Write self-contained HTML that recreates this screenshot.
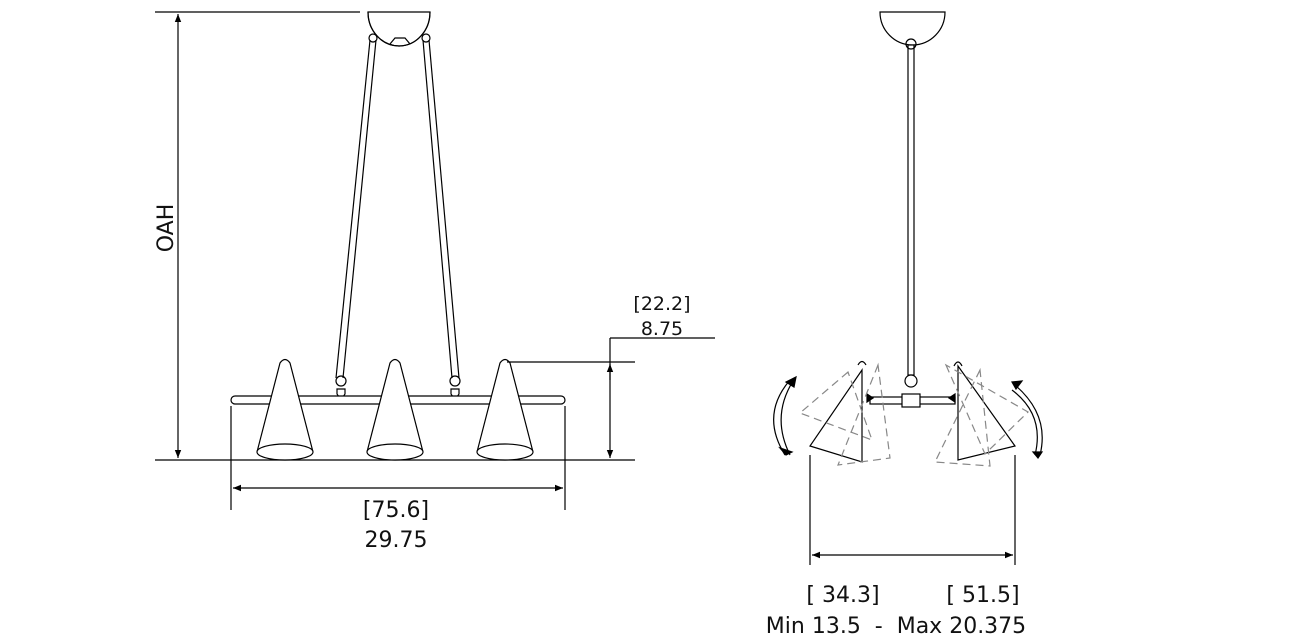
<!DOCTYPE html>
<html><head><style>body{margin:0;background:#fff}svg{display:block}text{font-family:"DejaVu Sans","Liberation Sans",sans-serif;fill:#111}</style></head><body>
<svg width="1292" height="643" viewBox="0 0 1292 643" xmlns="http://www.w3.org/2000/svg">
<defs>
<marker id="a" viewBox="0 0 10 10" refX="10" refY="5" markerWidth="24" markerHeight="8" markerUnits="userSpaceOnUse" orient="auto-start-reverse"><path d="M0,1 L10,5 L0,9 z" fill="#000"/></marker>
</defs>
<g stroke="#000" stroke-width="1.2" fill="none">
<!-- left view -->
<line x1="155" y1="12" x2="360" y2="12"/>
<line x1="178" y1="14" x2="178" y2="458" marker-start="url(#a)" marker-end="url(#a)"/>
<line x1="155" y1="460" x2="635" y2="460"/>
<path d="M368,12 L430,12 A31,34 0 0 1 368,12 Z" fill="#fff"/>
<path d="M368,12 A31,34 0 0 0 430,12" />
<path d="M390,44 L395,38 L405,38 L410,44"/>
<line x1="370" y1="40" x2="336" y2="378"/><line x1="376" y1="40" x2="343" y2="378"/>
<line x1="423" y1="40" x2="452" y2="378"/><line x1="429" y1="40" x2="459" y2="378"/>
<circle cx="373" cy="38" r="4"/><circle cx="426" cy="38" r="4"/>
<circle cx="341" cy="381" r="5"/><circle cx="455" cy="381" r="5"/>
<path d="M337,389 h8 v5 l-4,6 l-4,-6 z M451,389 h8 v5 l-4,6 l-4,-6 z"/>
<rect x="231" y="396" width="334" height="8" rx="4" fill="#fff"/>
<g fill="#fff">
<path d="M257,452 L280,363 Q285,356 290,363 L313,452"/><ellipse cx="285" cy="452" rx="28" ry="8"/>
<path d="M367,452 L390,363 Q395,356 400,363 L423,452"/><ellipse cx="395" cy="452" rx="28" ry="8"/>
<path d="M477,452 L500,363 Q505,356 510,363 L533,452"/><ellipse cx="505" cy="452" rx="28" ry="8"/>
</g>
<line x1="507" y1="362" x2="635" y2="362"/>
<line x1="610" y1="338" x2="715" y2="338"/>
<line x1="610" y1="338" x2="610" y2="458" marker-end="url(#a)"/>
<line x1="610" y1="364" x2="610" y2="380" marker-start="url(#a)"/>
<line x1="231" y1="406" x2="231" y2="510"/><line x1="565" y1="406" x2="565" y2="510"/>
<line x1="233" y1="488" x2="563" y2="488" marker-start="url(#a)" marker-end="url(#a)"/>
<!-- right view -->
<path d="M880,12 L945,12 A32.5,33 0 0 1 880,12 Z" fill="#fff"/>
<rect x="908" y="45" width="6" height="330" fill="#fff"/>
<circle cx="911" cy="44" r="5"/>
<circle cx="911" cy="381" r="6" fill="#fff"/>
<rect x="870" y="397" width="85" height="7" fill="#fff"/>
<rect x="902" y="394" width="18" height="13" fill="#fff"/>
<path d="M867,394 l6,4 -6,4z M955,394 l-6,4 6,4z" fill="#000"/>
<path d="M862,370 L810,446 L862,462 Z M858,365 Q862,358 866,365" />
<path d="M958,366 L958,460 L1015,446 Z M954,366 Q958,358 962,366"/>
<g stroke="#888" stroke-dasharray="8,5">
<path d="M848,372 L800,413 L872,440 Z"/>
<path d="M878,365 L838,465 L890,458 Z"/>
<path d="M946,365 L985,454 L1028,412 Z"/>
<path d="M980,370 L935,462 L990,466 Z"/>
</g>
<path d="M790,380 Q760,415 785,455 M795,378 Q770,415 790,455" />
<path d="M786,382 l10,-5 -2,10 z M780,448 l12,4 -6,3z" fill="#000"/>
<path d="M1015,385 Q1050,415 1040,455 M1012,390 Q1045,415 1035,455"/>
<path d="M1012,382 l10,-1 -6,8z M1033,452 l9,0 -4,6z" fill="#000"/>
<line x1="810" y1="455" x2="810" y2="565"/><line x1="1015" y1="455" x2="1015" y2="565"/>
<line x1="812" y1="555" x2="1013" y2="555" marker-start="url(#a)" marker-end="url(#a)"/>
</g>
<text transform="translate(173,228) rotate(-90)" font-size="22" text-anchor="middle">OAH</text>
<text x="662" y="310" font-size="19" text-anchor="middle">[22.2]</text>
<text x="662" y="335" font-size="19" text-anchor="middle">8.75</text>
<text x="396" y="517" font-size="22" text-anchor="middle">[75.6]</text>
<text x="396" y="547" font-size="22" text-anchor="middle">29.75</text>
<text x="843" y="602" font-size="22" text-anchor="middle">[ 34.3]</text>
<text x="983" y="602" font-size="22" text-anchor="middle">[ 51.5]</text>
<text x="896" y="633" font-size="22" text-anchor="middle" xml:space="preserve">Min 13.5  -  Max 20.375</text>
</svg>
</body></html>
